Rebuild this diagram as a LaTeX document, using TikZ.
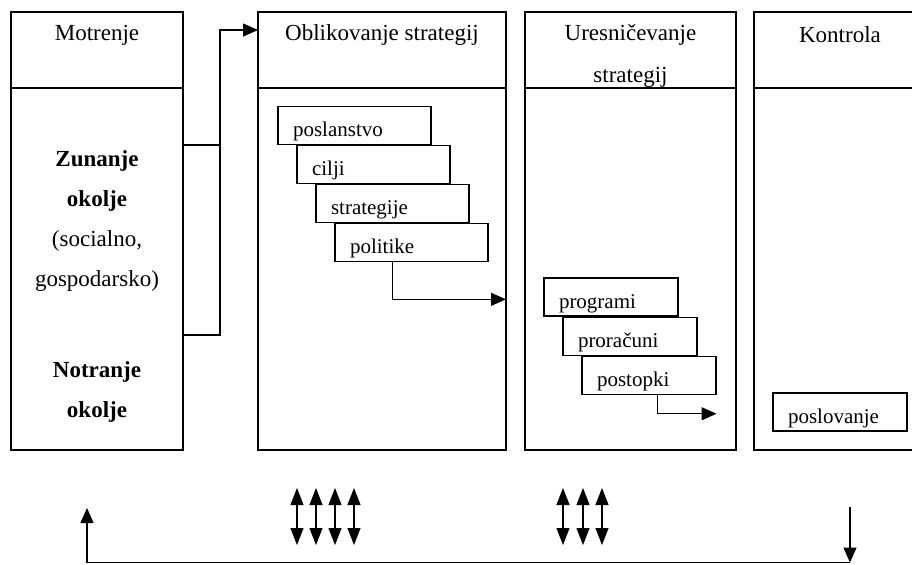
\documentclass[tikz,border=0pt]{standalone}
\usepackage{fontspec}
\setmainfont{Liberation Serif}
\usetikzlibrary{positioning, arrows.meta}

\begin{document}
\begin{tikzpicture}[
        x=0.5pt, y=-0.5pt,
        font=\fontsize{11.5}{14}\selectfont,
        glava/.style={draw, line width=1.4pt, fill=white, minimum width=#1, minimum height=38pt, inner sep=0pt, outer sep=0pt},
        telo/.style={draw, line width=1.4pt, fill=white, minimum width=#1, minimum height=181pt, inner sep=0pt, outer sep=0pt},
        korak/.style={draw, line width=0.55pt, fill=white, text width=#1, inner xsep=7.5pt, inner ysep=0pt,
            text height=15pt, text depth=4pt, font=\fontsize{10.5}{12}\selectfont},
        naslov/.style={align=center, inner sep=1pt},
        puscica/.style={-{Triangle[length=7.5pt, width=6.5pt]}, line width=0.6pt},
        dvojna/.style={{Triangle[length=8.5pt, width=6.5pt]}-{Triangle[length=8.5pt, width=6.5pt]}, line width=0.6pt},
    ]
        \clip (0,0) rectangle (912,564);
        \node[glava=86pt] (motrH) at (97,50) {};
        \node[telo=86pt, below=0pt of motrH] (motrB) {};
        \node[glava=124pt] (oblH) at (382,50) {};
        \node[telo=124pt, below=0pt of oblH] (oblB) {};
        \node[glava=105.5pt] (uresH) at (630.5,50) {};
        \node[naslov, font=\fontsize{11.5}{21}\selectfont] (uresT) at (630.5,56) {Uresničevanje\\strategij};
        \node[telo=105.5pt, below=0pt of uresH] (uresB) {};
        \node[glava=86pt] (kontH) at (840,50) {};
        \node[telo=86pt, below=0pt of kontH] (kontB) {};
        \node[naslov] (motrT) at (97,35) {Motrenje};
        \node[naslov] (oblT) at (382,35) {Oblikovanje strategij};
        \node[naslov] (kontT) at (840,35) {Kontrola};
        \node[naslov, font=\fontsize{11.5}{20}\selectfont] (zunanje) at (97,221)
            {\textbf{Zunanje}\\\textbf{okolje}\\(socialno,\\gospodarsko)};
        \node[naslov, font=\fontsize{11.5}{20}\selectfont] (notranje) at (97,392)
            {\textbf{Notranje}\\\textbf{okolje}};
        \node[korak=61.5pt] (poslanstvo) at (354.5,125.5) {poslanstvo};
        \node[korak=61.5pt, anchor=north west] (cilji) at ([xshift=9.5pt]poslanstvo.south west) {cilji};
        \node[korak=61.5pt, anchor=north west] (strategije) at ([xshift=9.5pt]cilji.south west) {strategije};
        \node[korak=61.5pt, anchor=north west] (politike) at ([xshift=9.5pt]strategije.south west) {politike};
        \node[korak=52pt] (programi) at (611,297) {programi};
        \node[korak=52pt, anchor=north west] (proracuni) at ([xshift=9.5pt]programi.south west) {proračuni};
        \node[korak=52pt, anchor=north west] (postopki) at ([xshift=9.5pt]proracuni.south west) {postopki};
        \node[korak=52pt] (poslovanje) at (840,412) {poslovanje};
        \draw[line width=0.6pt] ([yshift=62pt]motrB.east) -- ++(18.5pt,0) coordinate (vozel);
        \draw[line width=0.6pt] ([yshift=-33pt]motrB.east) -| (vozel);
        \draw[puscica] (vozel) |- ([yshift=10pt]oblH.west);
        \draw[puscica] ([xshift=29pt]politike.south west) |- ([yshift=-18.5pt]oblB.east |- politike.south);
        \draw[puscica] ([xshift=38pt]postopki.south west) |- ([yshift=-9.5pt]postopki.south east);
        \foreach \x in {297,316,335,354,563,583,602}
            \draw[dvojna] (\x,488) -- (\x,545);
        \coordinate (kontIzhod) at (850,507);
        \coordinate (kontDno) at (850,562.5);
        \coordinate (motrDno) at (87,562.5);
        \coordinate (motrVhod) at (87,508);
        \draw[puscica] (kontIzhod) -- (kontDno);
        \draw[puscica] (kontDno) -- (motrDno) -- (motrVhod);
    \end{tikzpicture}
\end{document}
